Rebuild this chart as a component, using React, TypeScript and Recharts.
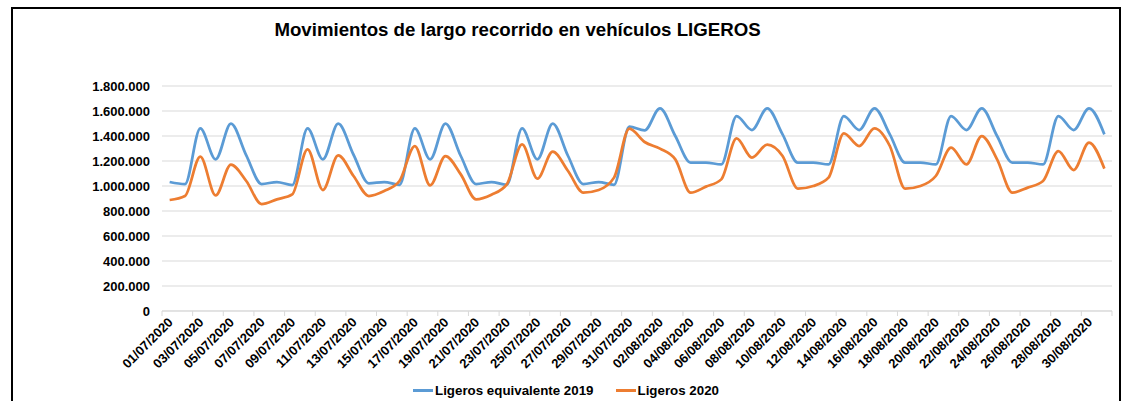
import { CartesianGrid, Legend, Line, LineChart, XAxis, YAxis } from 'recharts';

const dates = [
  '01/07/2020', '02/07/2020', '03/07/2020', '04/07/2020', '05/07/2020', '06/07/2020', '07/07/2020',
  '08/07/2020', '09/07/2020', '10/07/2020', '11/07/2020', '12/07/2020', '13/07/2020', '14/07/2020',
  '15/07/2020', '16/07/2020', '17/07/2020', '18/07/2020', '19/07/2020', '20/07/2020', '21/07/2020',
  '22/07/2020', '23/07/2020', '24/07/2020', '25/07/2020', '26/07/2020', '27/07/2020', '28/07/2020',
  '29/07/2020', '30/07/2020', '31/07/2020', '01/08/2020', '02/08/2020', '03/08/2020', '04/08/2020',
  '05/08/2020', '06/08/2020', '07/08/2020', '08/08/2020', '09/08/2020', '10/08/2020', '11/08/2020',
  '12/08/2020', '13/08/2020', '14/08/2020', '15/08/2020', '16/08/2020', '17/08/2020', '18/08/2020',
  '19/08/2020', '20/08/2020', '21/08/2020', '22/08/2020', '23/08/2020', '24/08/2020', '25/08/2020',
  '26/08/2020', '27/08/2020', '28/08/2020', '29/08/2020', '30/08/2020', '31/08/2020',
];

// Ligeros equivalente 2019
const ligeros2019 = [
  1032000, 1015000, 1461000, 1213000, 1499000, 1245000, 1016000,
  1032000, 1008000, 1461000, 1213000, 1499000, 1250000, 1021000,
  1032000, 1010000, 1461000, 1213000, 1499000, 1240000, 1016000,
  1032000, 1010000, 1461000, 1213000, 1499000, 1240000, 1016000,
  1032000, 1010000, 1475000, 1445000, 1621000, 1400000, 1187000,
  1187000, 1173000, 1560000, 1448000, 1621000, 1413000, 1187000,
  1187000, 1173000, 1560000, 1448000, 1621000, 1413000, 1187000,
  1187000, 1173000, 1560000, 1448000, 1621000, 1400000, 1187000,
  1187000, 1173000, 1560000, 1448000, 1621000, 1413000,
];

// Ligeros 2020
const ligeros2020 = [
  888000, 920000, 1235000, 925000, 1171000, 1040000, 855000,
  893000, 933000, 1293000, 968000, 1245000, 1080000, 920000,
  960000, 1040000, 1320000, 1005000, 1240000, 1093000, 893000,
  930000, 1013000, 1333000, 1059000, 1275000, 1120000, 947000,
  968000, 1067000, 1459000, 1352000, 1299000, 1213000, 947000,
  995000, 1053000, 1381000, 1227000, 1331000, 1240000, 979000,
  1000000, 1067000, 1421000, 1320000, 1461000, 1320000, 979000,
  1000000, 1080000, 1307000, 1173000, 1400000, 1213000, 947000,
  987000, 1040000, 1280000, 1128000, 1347000, 1139000,
];

const yTicks = [0, 200000, 400000, 600000, 800000, 1000000, 1200000, 1400000, 1600000, 1800000];

const seriesNames = ['Ligeros equivalente 2019', 'Ligeros 2020'];

const data = dates.map((d, i) => ({
  date: d,
  l2019: ligeros2019[i],
  l2020: ligeros2020[i],
}));

const W = 1127;
const H = 401;
const PLOT_LEFT = 162;
const PLOT_RIGHT = 15;
const STEP = (W - PLOT_LEFT - PLOT_RIGHT) / dates.length;
const FONT = "'Liberation Sans', Arial, sans-serif";

const fmt = (v: number) => String(v).replace(/\B(?=(\d{3})+(?!\d))/g, '.');

function DateTick(props: any) {
  const { x, y, payload, index } = props;
  const isLast = index === dates.length - 1;
  const showLabel = index % 2 === 0;
  const lx = x + 4;
  const ly = y + 12;
  return (
    <g>
      {showLabel && (
        <line x1={x - STEP / 2} y1={y} x2={x - STEP / 2} y2={y + 5} stroke="#d9d9d9" />
      )}
      {isLast && <line x1={x + STEP / 2} y1={y} x2={x + STEP / 2} y2={y + 5} stroke="#d9d9d9" />}
      {showLabel && (
        <text
          x={lx}
          y={ly}
          textAnchor="end"
          transform={`rotate(-45, ${lx}, ${ly})`}
          fontFamily={FONT}
          fontWeight="bold"
          fontSize={13}
          fill="#000"
        >
          {payload.value}
        </text>
      )}
    </g>
  );
}

const colors = ['#5b9bd5', '#ed7d31'];

function renderLegend() {
  return (
    <div
      style={{
        height: 30,
        display: 'flex',
        alignItems: 'flex-end',
        justifyContent: 'center',
        paddingLeft: 20,
        boxSizing: 'border-box',
        fontFamily: FONT,
        fontWeight: 'bold',
        fontSize: 13.33,
        color: '#000',
      }}
    >
      {seriesNames.map((name, i) => (
        <div
          key={name}
          style={{ display: 'flex', alignItems: 'center', marginLeft: i ? 22 : 0, lineHeight: '15px', paddingBottom: 3 }}
        >
          <span style={{ display: 'inline-block', width: 20, height: 3, background: colors[i], marginRight: 2 }} />
          <span>{name}</span>
        </div>
      ))}
    </div>
  );
}

export default function App() {
  return (
    <div style={{ position: 'relative', width: W, height: H, overflow: 'hidden', background: '#fff' }}>
      <style>{'body{margin:0}'}</style>
      <div
        style={{
          position: 'absolute',
          left: 11,
          top: 7,
          width: 1106,
          height: 440,
          border: '2px solid #000',
        }}
      />
      <div
        style={{
          position: 'absolute',
          left: 0,
          width: 1035,
          top: 19,
          textAlign: 'center',
          fontFamily: FONT,
          fontWeight: 'bold',
          fontSize: 18.67,
          lineHeight: '22px',
          color: '#000',
        }}
      >
        Movimientos de largo recorrido en vehículos LIGEROS
      </div>
      <div style={{ position: 'absolute', left: 0, top: 0 }}>
        <LineChart width={W} height={H} data={data} margin={{ top: 86, right: PLOT_RIGHT, left: 0, bottom: 0 }}>
          <CartesianGrid vertical={false} stroke="#d9d9d9" />
          <XAxis
            dataKey="date"
            interval={0}
            height={60}
            padding={{ left: STEP / 2, right: STEP / 2 }}
            axisLine={{ stroke: '#d9d9d9' }}
            tickLine={false}
            tickSize={0}
            tickMargin={0}
            tick={<DateTick />}
          />
          <YAxis
            width={PLOT_LEFT}
            domain={[0, 1800000]}
            ticks={yTicks}
            interval={0}
            axisLine={false}
            tickLine={false}
            tickSize={0}
            tickMargin={12}
            tickFormatter={fmt}
            tick={{ fill: '#000', fontSize: 13, fontWeight: 'bold', fontFamily: FONT }}
          />
          <Legend verticalAlign="bottom" height={30} content={renderLegend} />
          <Line
            type="monotone"
            dataKey="l2019"
            name={seriesNames[0]}
            stroke={colors[0]}
            strokeWidth={2.75}
            dot={false}
            isAnimationActive={false}
          />
          <Line
            type="monotone"
            dataKey="l2020"
            name={seriesNames[1]}
            stroke={colors[1]}
            strokeWidth={2.75}
            dot={false}
            isAnimationActive={false}
          />
        </LineChart>
      </div>
    </div>
  );
}
